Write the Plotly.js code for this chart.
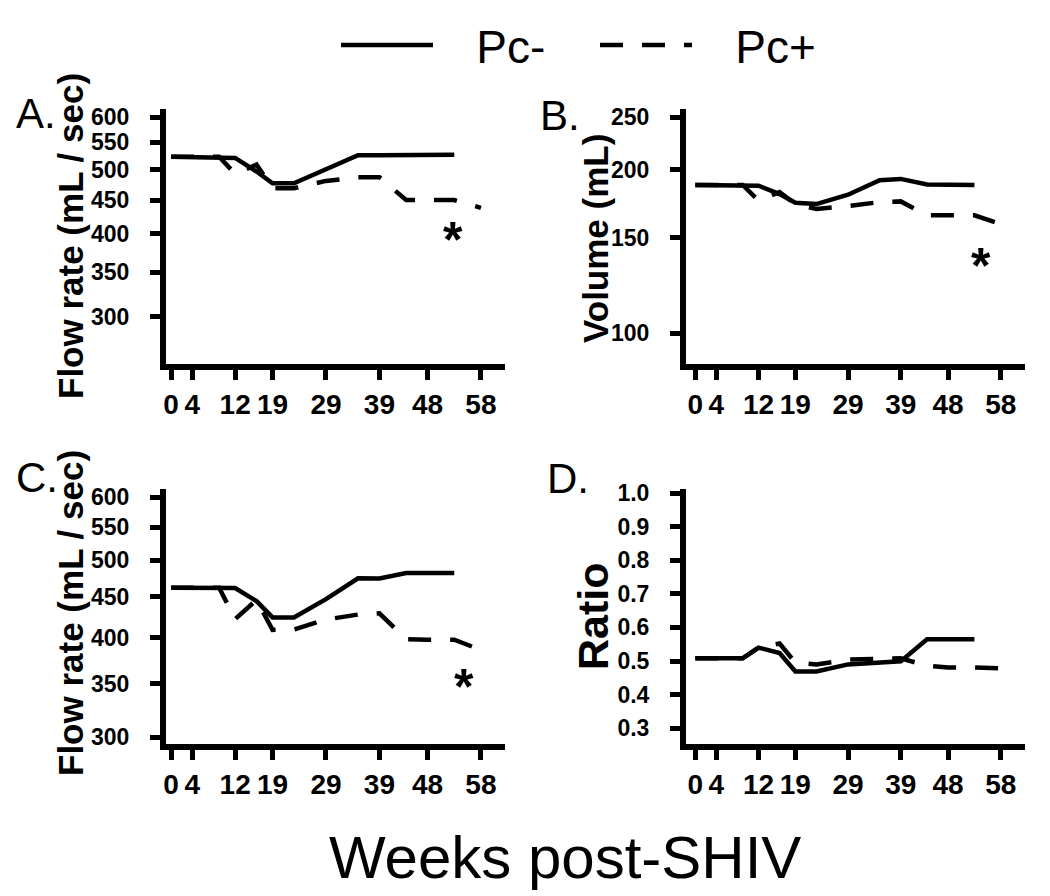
<!DOCTYPE html>
<html>
<head>
<meta charset="utf-8">
<script src="https://cdn.plot.ly/plotly-3.0.1.min.js"></script>
<style>html,body{margin:0;padding:0;background:#fff;}#chart{width:1050px;height:896px;}</style>
</head>
<body>
<div id="chart"></div>
<script>
// ---------------- data ----------------
const weeksNeg = [0, 4, 9, 12, 16, 19, 23, 29, 35, 39, 44, 48, 53];
const weeksPos = [0, 4, 9, 12, 16, 19, 23, 29, 35, 39, 44, 48, 53, 58];

const flowA_neg = [523, 523, 523, 521, 497, 477, 477, 501, 526, 526, 527, 527, 527];
const flowA_pos = [523, 523, 523, 493, 509, 469, 469, 481, 487, 487, 450, 450, 450, 438];

const volB_neg = [187.6, 187.6, 187.6, 187, 180.5, 174, 173, 180, 191.5, 192.5, 188, 187.6, 187.6];
const volB_pos = [187.6, 187.6, 187.6, 175.6, 182, 173, 169.5, 171.5, 174.5, 175, 165, 165, 165, 159];

const flowC_neg = [462, 462, 462, 461.5, 444.5, 424, 424, 447, 474.7, 474.5, 482, 482, 482];
const flowC_pos = [462, 462, 462, 422, 446, 409, 409.5, 421.5, 427.5, 429, 398, 397.5, 397.5, 386];

const ratioD_neg = [0.508, 0.508, 0.508, 0.540, 0.524, 0.469, 0.469, 0.490, 0.497, 0.499, 0.565, 0.565, 0.565];
const ratioD_pos = [0.508, 0.508, 0.508, 0.540, 0.552, 0.495, 0.490, 0.504, 0.506, 0.508, 0.486, 0.481, 0.481, 0.478];

const seriesNames = ['Pc-', 'Pc+'];
const xTicks = [0, 4, 12, 19, 29, 39, 48, 58];
const yTicksFlowA = [300, 350, 400, 450, 500, 550, 600];
const yTicksVol = [100, 150, 200, 250];
const yTicksFlowC = [300, 350, 400, 450, 500, 550, 600];
const yTicksRatio = [0.3, 0.4, 0.5, 0.6, 0.7, 0.8, 0.9, 1.0];
const yTickTextRatio = ['0.3', '0.4', '0.5', '0.6', '0.7', '0.8', '0.9', '1.0'];
const panelLabels = ['A.', 'B.', 'C.', 'D.'];
const yTitles = ['Flow rate (mL / sec)', 'Volume (mL)', 'Flow rate (mL / sec)', 'Ratio'];
const xTitle = 'Weeks post-SHIV';

// ---------------- styling ----------------
const FONT = 'Liberation Sans, Arial, Helvetica, sans-serif';
const W = 1050, H = 896;
const px = v => v / W;
const py = v => 1 - v / H;
const LW = 4.5;
const DASH = '23px,19px';
const PAD = '\u00a0\u00a0\u00a0';

function trace(x, y, idx, xa, ya, showlegend) {
  return {
    type: 'scatter', mode: 'lines', x: x, y: y,
    name: PAD + seriesNames[idx],
    xaxis: xa, yaxis: ya,
    line: {color: '#000', width: LW, dash: idx === 0 ? 'solid' : DASH},
    showlegend: showlegend, hoverinfo: 'skip'
  };
}

const data = [
  trace(weeksNeg, flowA_neg, 0, 'x', 'y', true),
  trace(weeksPos, flowA_pos, 1, 'x', 'y', true),
  trace(weeksNeg, volB_neg, 0, 'x2', 'y2', false),
  trace(weeksPos, volB_pos, 1, 'x2', 'y2', false),
  trace(weeksNeg, flowC_neg, 0, 'x3', 'y3', false),
  trace(weeksPos, flowC_pos, 1, 'x3', 'y3', false),
  trace(weeksNeg, ratioD_neg, 0, 'x4', 'y4', false),
  trace(weeksPos, ratioD_pos, 1, 'x4', 'y4', false)
];

function xaxis(domain, range, anchor) {
  return {
    domain: domain, range: range, anchor: anchor, automargin: false,
    showline: true, linecolor: '#000', linewidth: 6,
    showgrid: false, zeroline: false,
    ticks: 'outside', ticklen: 10, tickwidth: 5, tickcolor: '#000',
    tickmode: 'array', tickvals: xTicks, ticktext: xTicks.map(String),
    tickfont: {family: FONT, size: 28, color: '#000', weight: 'bold'},
    ticklabelstandoff: 0,
    fixedrange: true
  };
}
function yaxis(domain, range, anchor, type, vals, text) {
  return {
    domain: domain, range: range, anchor: anchor, type: type, automargin: false,
    showline: true, linecolor: '#000', linewidth: 6,
    showgrid: false, zeroline: false,
    ticks: 'outside', ticklen: 10, tickwidth: 5, tickcolor: '#000',
    tickmode: 'array', tickvals: vals, ticktext: text,
    tickfont: {family: FONT, size: 23, color: '#000', weight: 'bold'},
    ticklabelstandoff: 16,
    fixedrange: true
  };
}

function yTitle(text, x, y, size) {
  return {text: text, xref: 'paper', yref: 'paper', x: px(x), y: py(y), xanchor: 'center', yanchor: 'middle',
    textangle: -90, showarrow: false, font: {family: FONT, size: size, color: '#000', weight: 'bold'}};
}
function panelLabel(text, x, y) {
  return {text: text, xref: 'paper', yref: 'paper', x: px(x), y: py(y), xanchor: 'left', yanchor: 'middle',
    showarrow: false, font: {family: FONT, size: 42, color: '#000'}};
}
function star(xref, yref, x, y) {
  return {text: '*', xref: xref, yref: yref, x: x, y: y, yshift: -11, showarrow: false,
    font: {family: FONT, size: 50, color: '#000', weight: 'bold'}};
}

const dxL = [px(166), px(505)], dxR = [px(686), px(1025)];
const dyT = [py(364), py(109)], dyB = [py(744), py(489)];

const layout = {
  width: W, height: H, autosize: false,
  margin: {l: 0, r: 0, t: 0, b: 0, pad: 0, autoexpand: false},
  paper_bgcolor: '#fff', plot_bgcolor: '#fff',
  font: {family: FONT, color: '#000'},
  xaxis: xaxis(dxL, [-0.94, 62.5], 'y'),
  yaxis: yaxis(dyT, [Math.log10(254.5), Math.log10(617.6)], 'x', 'log', yTicksFlowA, yTicksFlowA.map(String)),
  xaxis2: xaxis(dxR, [-1.77, 62.6], 'y2'),
  yaxis2: yaxis(dyT, [Math.log10(87.8), Math.log10(258.96)], 'x2', 'log', yTicksVol, yTicksVol.map(String)),
  xaxis3: xaxis(dxL, [-0.94, 62.5], 'y3'),
  yaxis3: yaxis(dyB, [Math.log10(294.1), Math.log10(614.6)], 'x3', 'log', yTicksFlowC, yTicksFlowC.map(String)),
  xaxis4: xaxis(dxR, [-1.77, 62.6], 'y4'),
  yaxis4: yaxis(dyB, [0.253, 1.012], 'x4', 'linear', yTicksRatio, yTickTextRatio),
  showlegend: true,
  legend: {
    orientation: 'h', x: px(336), xanchor: 'left', y: py(45), yanchor: 'middle',
    font: {family: FONT, size: 46, color: '#000'},
    itemwidth: 92, entrywidth: 152, entrywidthmode: 'pixels',
    bgcolor: 'rgba(0,0,0,0)', borderwidth: 0, itemclick: false, itemdoubleclick: false
  },
  annotations: [
    panelLabel(panelLabels[0], 14, 114),
    panelLabel(panelLabels[1], 538, 116),
    panelLabel(panelLabels[2], 14, 477),
    panelLabel(panelLabels[3], 545, 478),
    yTitle(yTitles[0], 70, 236, 35),
    yTitle(yTitles[1], 596, 239, 35),
    yTitle(yTitles[2], 70, 613, 35),
    yTitle(yTitles[3], 593, 616, 43),
    {text: xTitle, xref: 'paper', yref: 'paper', x: px(565), y: py(857), xanchor: 'center', yanchor: 'middle', showarrow: false, font: {family: FONT, size: 60, color: '#000'}},
    star('x', 'y', 52.8, Math.log10(407)),
    star('x2', 'y2', 54.3, Math.log10(139.4)),
    star('x3', 'y3', 54.8, Math.log10(358))
  ]
};

Plotly.newPlot('chart', data, layout, {displayModeBar: false, staticPlot: true});
</script>
</body>
</html>
